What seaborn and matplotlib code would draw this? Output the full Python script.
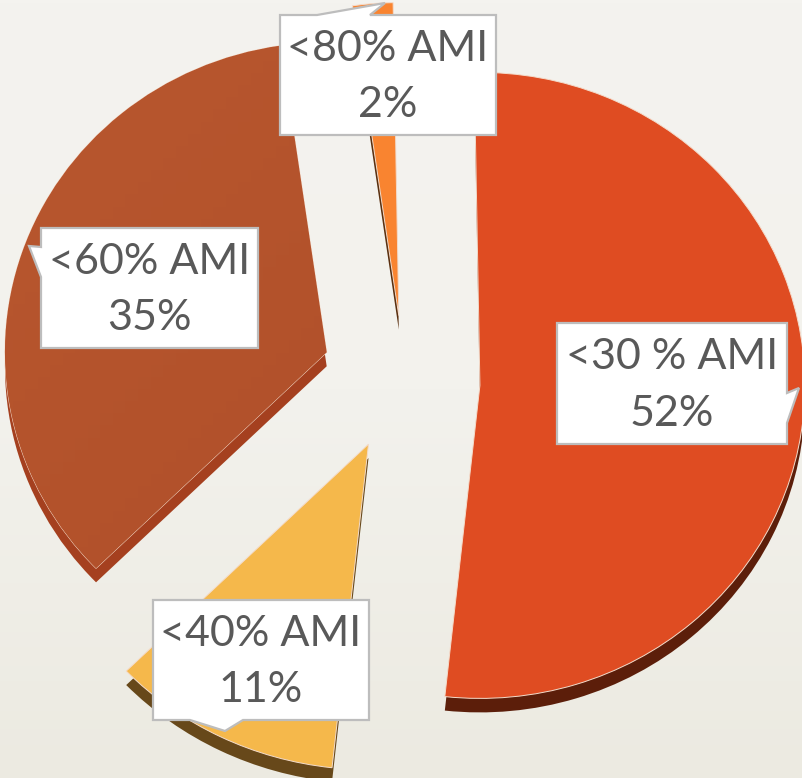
import numpy as np
import matplotlib
matplotlib.use("Agg")
import matplotlib.pyplot as plt
import matplotlib.transforms as mtrans
from matplotlib.colors import LinearSegmentedColormap
from matplotlib.patches import Polygon
import seaborn as sns

# values
categories = ["<30 % AMI", "<40% AMI", "<60% AMI", "<80% AMI"]
values = [52, 11, 35, 2]
percent_labels = ["52%", "11%", "35%", "2%"]
explode = [0.24, 0.235, 0.235, 0.2]
radius_scale = [1, 1.04, 0.99, 1]
nudge_px = [(1, -4), (1, 0), (-2, 2), (3, 0)]  # x right, y up

top_colors = sns.color_palette(["#DF4C22", "#F5B84B", "#B0502C", "#F98430"])
side_colors = sns.color_palette(["#5C1E0A", "#67481A", "#A5401F", "#5A3010"])

W, H = 803, 778
RX, RY = 325, 313  # pie is a bit squashed
CX, CY = 401, 378
DEPTH = 14

sns.set_theme(style="white")
plt.rcParams["font.family"] = ["Lato", "DejaVu Sans"]

fig, ax = plt.subplots(figsize=(W / 100, H / 100), dpi=100)
fig.subplots_adjust(0, 0, 1, 1)

# extruded side first, then the top face
side, _ = ax.pie(values, explode=explode, colors=side_colors, startangle=91, counterclock=False,
                 center=(0, -DEPTH / RY), wedgeprops={"linewidth": 0})
wedges, _ = ax.pie(values, explode=explode, colors=top_colors, startangle=91, counterclock=False,
                   wedgeprops={"linewidth": 0.7, "edgecolor": "#F4DCCB"})
for s, w, k, (dx, dy) in zip(side, wedges, radius_scale, nudge_px):
    for p in (s, w):
        p.set_radius(k)
        p.set_center((p.center[0] + dx / RX, p.center[1] + dy / RY))

xlim = (-CX / RX, (W - CX) / RX)
ylim = (-(H - CY) / RY, CY / RY)

# page background, slightly darker at the bottom
page = LinearSegmentedColormap.from_list("page", ["#F4F3EF", "#F3F2ED", "#ECEAE1"])
ax.imshow(np.linspace(0, 1, 256).reshape(-1, 1), cmap=page, extent=(*xlim, *ylim), aspect="auto", zorder=0)

# soft shading on the brown slice
shade = LinearSegmentedColormap.from_list("shade", ["#B9582F", "#AA4926"])
gx, gy = np.meshgrid(np.linspace(0, 1, 64), np.linspace(0, 1, 64))
im = ax.imshow(gx + gy, cmap=shade, extent=(*xlim, *ylim), aspect="auto", zorder=1.5)
im.set_clip_path(wedges[2])
wedges[2].set_zorder(1.4)

ax.set_xlim(xlim)
ax.set_ylim(ylim)
ax.set_aspect("auto")

# callouts are placed in image pixels (y down)
px = mtrans.Affine2D().scale(1, -1).translate(0, H)
boxes = [(557, 323, 787, 444), (153, 600, 369, 720), (41, 228, 258, 348), (280, 15, 496, 135)]
tails = [
    [(787, 393), (799, 388), (787, 423)],
    [(243, 720), (225, 731), (190, 720)],
    [(41, 277), (29, 246), (41, 247)],
    [(317, 15), (385, 3), (370, 15)],
]
# tail sits on right, bottom, left, top edge in that order
for i, (x0, y0, x1, y1) in enumerate(boxes):
    right = [(x0, y0), (x1, y0)] + tails[0] + [(x1, y1), (x0, y1)]
    bottom = [(x0, y0), (x1, y0), (x1, y1)] + tails[1] + [(x0, y1)]
    left = [(x0, y0), (x1, y0), (x1, y1), (x0, y1)] + tails[2]
    top = [(x0, y0)] + tails[3] + [(x1, y0), (x1, y1), (x0, y1)]
    pts = [right, bottom, left, top][i]
    ax.add_patch(Polygon(pts, closed=True, facecolor="white", edgecolor="#BDBDBD", linewidth=1.6,
                         transform=px, zorder=5, clip_on=False))
    ax.text((x0 + x1) / 2, (y0 + y1) / 2 + 2, categories[i] + "\n" + percent_labels[i], transform=px,
            ha="center", va="center", fontsize=31, color="#595959", linespacing=1.6, zorder=6)

fig.savefig("out.png", dpi=100)
